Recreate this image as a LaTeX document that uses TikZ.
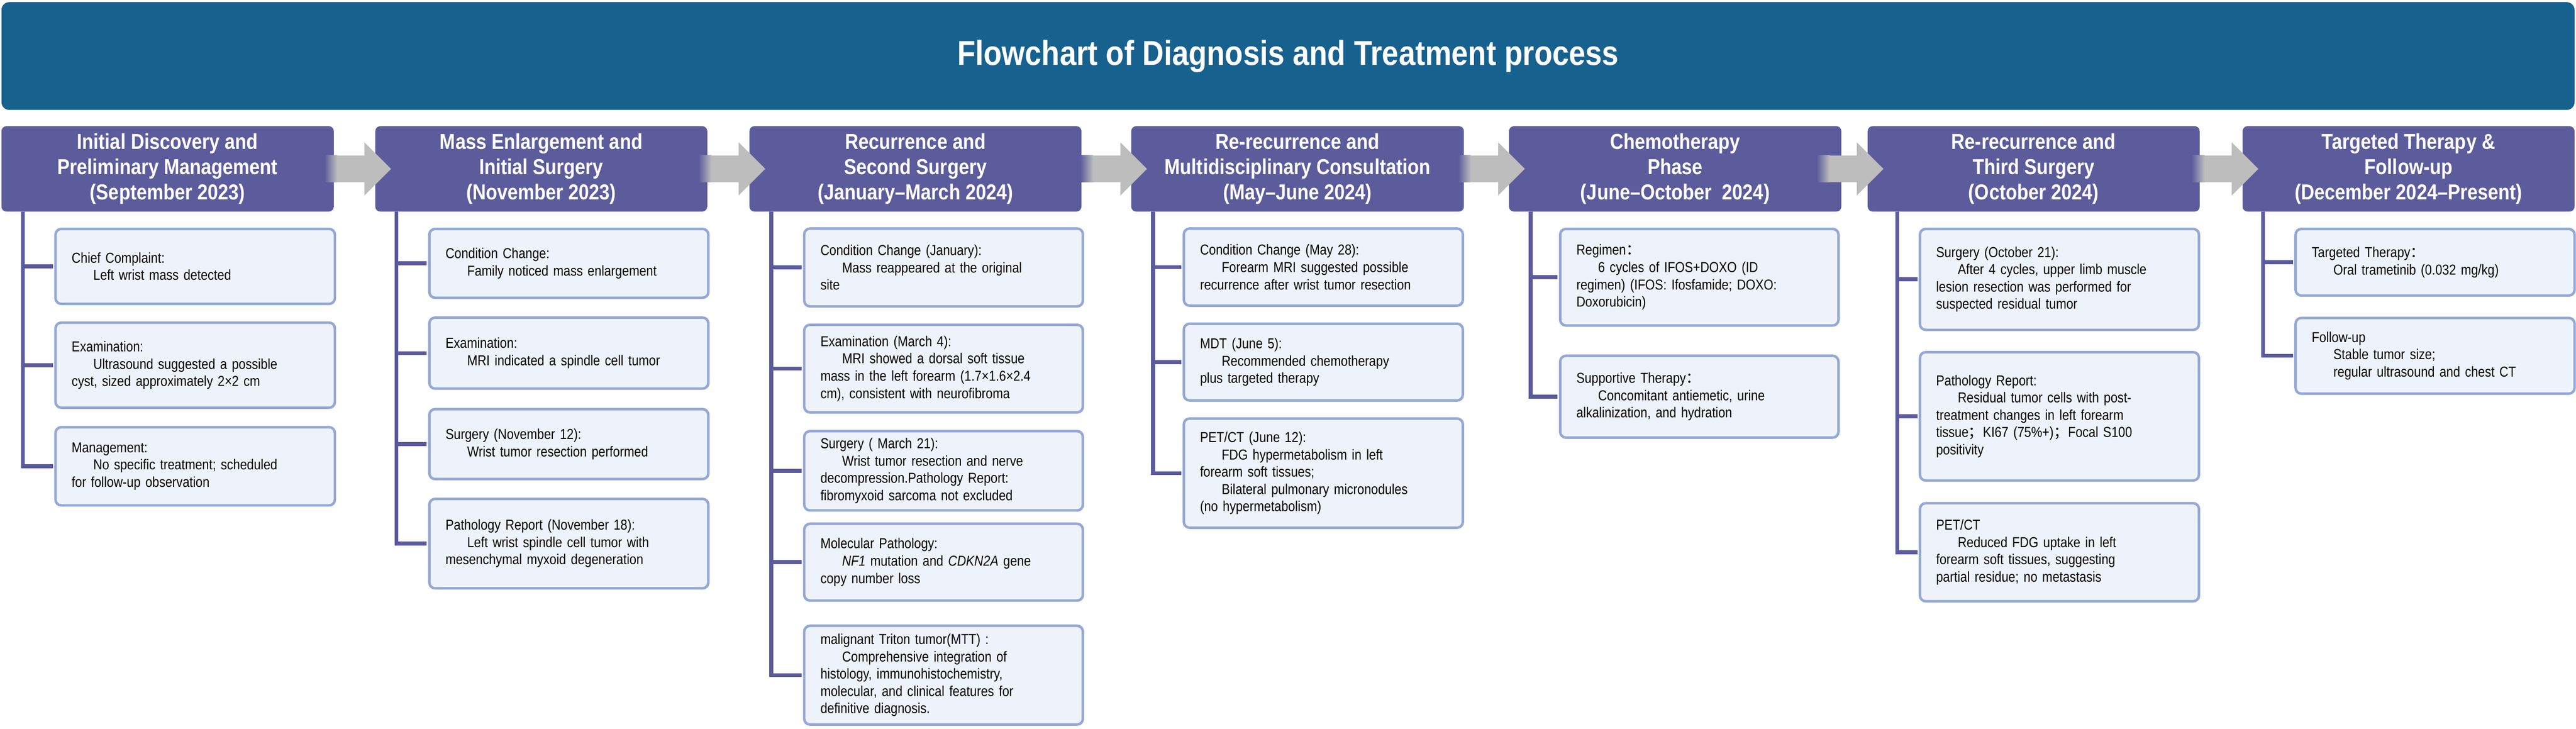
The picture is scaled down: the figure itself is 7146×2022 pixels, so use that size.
\documentclass[tikz,border=0pt]{standalone}
\usepackage{fontspec}
\setmainfont{Liberation Sans}[FakeStretch=0.86]
\newfontfamily\cjk{Noto Sans CJK SC}
\usetikzlibrary{calc}
\definecolor{titlec}{HTML}{17618F}
\definecolor{hdr}{HTML}{5C5C9C}
\definecolor{boxf}{HTML}{EEF3FB}
\definecolor{boxd}{HTML}{94A8D6}
\definecolor{trk}{HTML}{5A5A9C}
\definecolor{agray}{HTML}{BDBDBD}
\newcommand\ind{\hspace*{60pt}}
\newcommand\fc{{\cjk ：}}
\newcommand\fs{{\cjk ；}}
\tikzset{
 box/.style={draw=boxd,fill=boxf,line width=7pt,rounded corners=16pt,align=left,inner xsep=45pt,inner ysep=0pt,font=\fontsize{40}{48}\selectfont},
 hd/.style={fill=hdr,rounded corners=14pt,align=center,text=white,inner sep=0pt,font=\bfseries\fontsize{60}{70}\selectfont},
 trunk/.style={draw=trk,line width=11pt},
}
\newcommand\bx[6]{\pgfmathsetmacro\bw{#4-#2-90}\pgfmathsetmacro\bh{#5-#3}%
 \node[box,text width=\bw pt,minimum height=\bh pt] (#1) at ({(#2+#4)/2},{(#3+#5)/2}) {#6};}
\newcommand\hdn[4]{\pgfmathsetmacro\bw{#3-#2}%
 \node[hd,minimum width=\bw pt,minimum height=237pt] (#1) at ({(#2+#3)/2},468.5) {#4};}
\newcommand\arr[1]{%
 \coordinate (t) at ($(#1.west)+(44,0)$);
 \fill[agray] (t) -- ++(-74,-74) -- ++(0,37) -- ++(-76,0) -- ++(0,74) -- ++(76,0) -- ++(0,37) -- cycle;
 \shade[left color=hdr,right color=agray] ($(t)+(-185,-37)$) rectangle ($(t)+(-149,37)$);}
\begin{document}
\begin{tikzpicture}[x=1pt,y=-1pt]
\useasboundingbox (0,0) rectangle (7146,2022);
\node[fill=titlec,rounded corners=22pt,minimum width=7138pt,minimum height=299pt,text=white,font=\bfseries\fontsize{96}{110}\selectfont] (title) at (3573,155.5) {Flowchart of Diagnosis and Treatment process};
\hdn{h1}{4}{926}{Initial Discovery and\\Preliminary Management\\(September 2023)}
\hdn{h2}{1041}{1962}{Mass Enlargement and\\Initial Surgery\\(November 2023)}
\hdn{h3}{2079}{3000}{Recurrence and\\Second Surgery\\(January–March 2024)}
\hdn{h4}{3138}{4061}{Re-recurrence and\\Multidisciplinary Consultation\\(May–June 2024)}
\hdn{h5}{4186}{5108}{Chemotherapy\\Phase\\(June–October\ \ 2024)}
\hdn{h6}{5181}{6102}{Re-recurrence and\\Third Surgery\\(October 2024)}
\hdn{h7}{6221}{7142}{Targeted Therapy \&\\Follow-up\\(December 2024–Present)}
\arr{h2}\arr{h3}\arr{h4}\arr{h5}\arr{h6}\arr{h7}
% column 1
\bx{b11}{154}{635}{929}{843}{Chief Complaint:\\\ind Left wrist mass detected}
\bx{b12}{154}{895}{929}{1131}{Examination:\\\ind Ultrasound suggested a possible\\cyst, sized approximately 2×2 cm}
\bx{b13}{154}{1185}{929}{1402}{Management:\\\ind No specific treatment; scheduled\\for follow-up observation}
% column 2
\bx{b21}{1191}{635}{1965}{826}{Condition Change:\\\ind Family noticed mass enlargement}
\bx{b22}{1191}{881}{1965}{1078}{Examination:\\\ind MRI indicated a spindle cell tumor}
\bx{b23}{1191}{1135}{1965}{1329}{Surgery (November 12):\\\ind Wrist tumor resection performed}
\bx{b24}{1191}{1384}{1965}{1632}{Pathology Report (November 18):\\\ind Left wrist spindle cell tumor with\\mesenchymal myxoid degeneration}
% column 3
\bx{b31}{2231}{634}{3004}{850}{Condition Change (January):\\\ind Mass reappeared at the original\\site}
\bx{b32}{2231}{901}{3004}{1144}{Examination (March 4):\\\ind MRI showed a dorsal soft tissue\\mass in the left forearm (1.7×1.6×2.4\\cm), consistent with neurofibroma}
\bx{b33}{2231}{1196}{3004}{1416}{Surgery ( March 21):\\\ind Wrist tumor resection and nerve\\decompression.Pathology Report:\\fibromyxoid sarcoma not excluded}
\bx{b34}{2231}{1453}{3004}{1666}{Molecular Pathology:\\\ind \textit{NF1} mutation and \textit{CDKN2A} gene\\copy number loss}
\bx{b35}{2231}{1736}{3004}{2010}{malignant Triton tumor(MTT) :\\\ind Comprehensive integration of\\histology, immunohistochemistry,\\molecular, and clinical features for\\definitive diagnosis.}
% column 4
\bx{b41}{3284}{634}{4058}{848}{Condition Change (May 28):\\\ind Forearm MRI suggested possible\\recurrence after wrist tumor resection}
\bx{b42}{3284}{898}{4058}{1111}{MDT (June 5):\\\ind Recommended chemotherapy\\plus targeted therapy}
\bx{b43}{3284}{1161}{4058}{1464}{PET/CT (June 12):\\\ind FDG hypermetabolism in left\\forearm soft tissues;\\\ind Bilateral pulmonary micronodules\\(no hypermetabolism)}
% column 5
\bx{b51}{4328}{635}{5100}{903}{Regimen\fc\\\ind 6 cycles of IFOS+DOXO (ID\\regimen) (IFOS: Ifosfamide; DOXO:\\Doxorubicin)}
\bx{b52}{4328}{987}{5100}{1214}{Supportive Therapy\fc\\\ind Concomitant antiemetic, urine\\alkalinization, and hydration}
% column 6
\bx{b61}{5326}{635}{6100}{915}{Surgery (October 21):\\\ind After 4 cycles, upper limb muscle\\lesion resection was performed for\\suspected residual tumor}
\bx{b62}{5326}{977}{6100}{1333}{Pathology Report:\\\ind Residual tumor cells with post-\\treatment changes in left forearm\\tissue\fs KI67 (75\%+)\fs Focal S100\\positivity}
\bx{b63}{5326}{1396}{6100}{1668}{PET/CT\\\ind Reduced FDG uptake in left\\forearm soft tissues, suggesting\\partial residue; no metastasis}
% column 7
\bx{b71}{6368}{635}{7142}{820}{Targeted Therapy\fc\\\ind Oral trametinib (0.032 mg/kg)}
\bx{b72}{6368}{882}{7142}{1092}{Follow-up\\\ind Stable tumor size;\\\ind regular ultrasound and chest CT}
% trunks
\begin{scope}[on background layer/.try]
\end{scope}
\foreach \h/\o/\bs in {h1/60/{b11,b12,b13},h2/59/{b21,b22,b23,b24},h3/61/{b31,b32,b33,b34,b35},h4/61/{b41,b42,b43},h5/60/{b51,b52},h6/82/{b61,b62,b63},h7/57/{b71,b72}}{
  \foreach \b in \bs {\draw[trunk] ([xshift=\o pt]\h.south west) |- ([xshift=-3.5pt]\b.west);}
}
\end{tikzpicture}
\end{document}
